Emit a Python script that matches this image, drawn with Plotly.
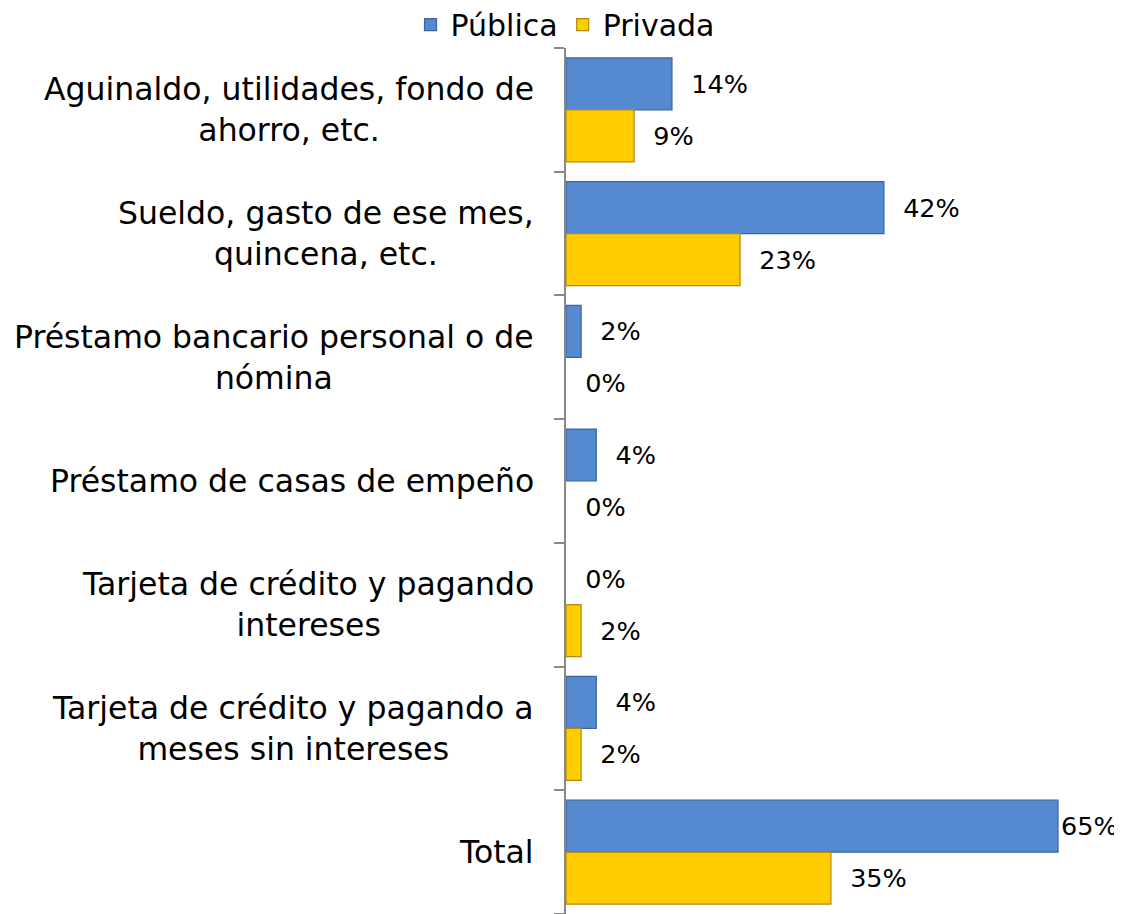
import plotly.graph_objects as go

categories = [
    "Aguinaldo, utilidades, fondo de<br>ahorro, etc.",
    "Sueldo, gasto de ese mes,<br>quincena, etc.",
    "Préstamo bancario personal o de<br>nómina",
    "Préstamo de casas de empeño",
    "Tarjeta de crédito y pagando<br>intereses",
    "Tarjeta de crédito y pagando a<br>meses sin intereses",
    "Total",
]
publica = [14, 42, 2, 4, 0, 4, 65]
privada = [9, 23, 0, 0, 2, 2, 35]
# label padding (Excel pulls the widest label against the bar)
pad_pub = [2, 2, 2, 2, 2, 2, 0]
pad_pri = [2, 2, 2, 2, 2, 2, 2]

cat_ids = list(range(len(categories)))
FONT = "DejaVu Sans, Verdana, sans-serif"

def labels(vals, pads):
    return ["\u00a0" * p + f"{v}%" for v, p in zip(vals, pads)]

def edge(vals):
    return [0 if v == 0 else 1.2 for v in vals]

fig = go.Figure()
fig.add_trace(go.Bar(
    name="Pública", y=cat_ids, x=publica, orientation="h",
    marker=dict(color="#558ad0", line=dict(color="#3a659e", width=edge(publica))),
    text=labels(publica, pad_pub), textposition="outside",
    textfont=dict(size=25.5, color="black", family=FONT),
    constraintext="none", cliponaxis=False,
))
fig.add_trace(go.Bar(
    name="Privada", y=cat_ids, x=privada, orientation="h",
    marker=dict(color="#ffcc00", line=dict(color="#b08a10", width=edge(privada))),
    text=labels(privada, pad_pri), textposition="outside",
    textfont=dict(size=25.5, color="black", family=FONT),
    constraintext="none", cliponaxis=False,
))

for i, c in enumerate(categories):
    fig.add_annotation(
        x=0, xref="paper", y=i, yref="y", text=c, showarrow=False,
        xanchor="right", yanchor="middle", align="center", xshift=-30,
        font=dict(size=31.5, color="black", family=FONT),
    )

# page body adds an 8px margin, so the figure is 8px smaller on each axis
fig.update_layout(
    width=1114, height=906,
    margin=dict(l=558, r=11, t=40, b=0, autoexpand=False),
    paper_bgcolor="white", plot_bgcolor="white",
    barmode="group", bargap=0.16, bargroupgap=0,
    font=dict(family=FONT, size=30, color="black"),
    showlegend=True,
    legend=dict(
        orientation="h", xref="container", yref="paper",
        x=0.5, xanchor="center", y=1.027, yanchor="middle",
        font=dict(size=30, family=FONT, color="black"),
        itemwidth=30, tracegroupgap=0, borderwidth=0,
        bgcolor="rgba(0,0,0,0)",
    ),
    xaxis=dict(range=[0, 72], visible=False, fixedrange=True),
    yaxis=dict(
        type="linear", range=[len(categories) - 0.5, -0.5],
        tickvals=[i - 0.5 for i in range(len(categories) + 1)],
        showticklabels=False, ticks="outside", ticklen=10,
        tickcolor="#888888", tickwidth=1.5,
        showline=True, linecolor="#888888", linewidth=2,
        showgrid=False, zeroline=False,
    ),
)

fig.write_html("out.html")
